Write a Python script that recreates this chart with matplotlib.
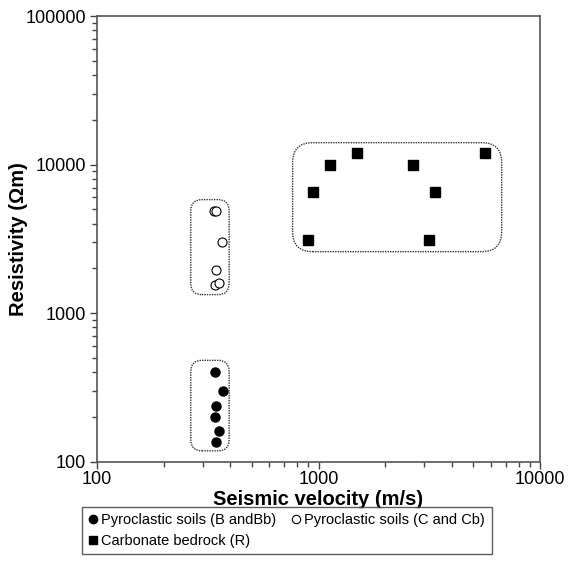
import matplotlib
matplotlib.use("Agg")
import matplotlib.pyplot as plt
from matplotlib.patches import FancyBboxPatch
from matplotlib.lines import Line2D

plt.rcParams['font.family'] = ['Liberation Sans', 'DejaVu Sans']

# Data
pyro_b_vel = [340, 370, 345, 340, 355, 345]
pyro_b_res = [400, 300, 235, 200, 160, 135]
pyro_c_vel = [338, 345, 365, 345, 340, 355]
pyro_c_res = [4900, 4900, 3000, 1950, 1550, 1600]
bed_vel = [894, 941, 1130, 1488, 2663, 3357, 3165, 5629]
bed_res = [3100, 6500, 10000, 12000, 10000, 6500, 3100, 12000]

labels = ["Pyroclastic soils (B andBb)", "Pyroclastic soils (C and Cb)", "Carbonate bedrock (R)"]
x_ticks = [100, 1000, 10000]
y_ticks = [100, 1000, 10000, 100000]

# group boxes (data extents) and corner rounding (axes fraction)
boxes = [
    (265, 395, 118, 480, 0.025),
    (265, 395, 1330, 5800, 0.025),
    (764, 6714, 2590, 14030, 0.045),
]

fig = plt.figure(figsize=(5.68, 5.68), dpi=100)
ax = fig.add_axes([0.1708, 0.1875, 0.7799, 0.7843])
ax.set_xscale('log')
ax.set_yscale('log')
ax.set_xlim(100, 10000)
ax.set_ylim(100, 100000)

ms = 6.5
ax.plot(pyro_b_vel, pyro_b_res, 'o', color='black', ms=ms, mec='black', zorder=3)
ax.plot(pyro_c_vel, pyro_c_res, 'o', mfc='white', mec='black', mew=0.8, ms=ms, zorder=3)
ax.plot(bed_vel, bed_res, 's', color='black', ms=ms, zorder=3)

fig.canvas.draw()
to_axes = ax.transData + ax.transAxes.inverted()
for (x0, x1, y0, y1, r) in boxes:
    (ax0, ay0), (ax1, ay1) = to_axes.transform([(x0, y0), (x1, y1)])
    p = FancyBboxPatch((ax0, ay0), ax1 - ax0, ay1 - ay0,
                       boxstyle="round,pad=0,rounding_size=%g" % r,
                       transform=ax.transAxes, fill=False, ec='#333333',
                       lw=1.0, ls=(0, (1.0, 0.8)), zorder=2)
    ax.add_patch(p)

ax.set_xticks(x_ticks)
ax.set_xticklabels([str(v) for v in x_ticks])
ax.set_yticks(y_ticks)
ax.set_yticklabels([str(v) for v in y_ticks])
ax.tick_params(axis='both', which='major', direction='out', length=5, width=1,
               labelsize=13, color='#444444', pad=3)
ax.tick_params(axis='x', which='major', pad=2)
ax.tick_params(axis='both', which='minor', direction='out', length=3.5, width=1,
               color='#444444')
for s in ax.spines.values():
    s.set_color('#555555')
    s.set_linewidth(1.2)

ax.set_xlabel("Seismic velocity (m/s)", fontsize=14.5, fontweight='bold', labelpad=1)
ax.set_ylabel("Resistivity (Ωm)", fontsize=14.5, fontweight='bold')
ax.yaxis.set_label_coords(-0.155, 0.5)

h_b = Line2D([], [], marker='o', ls='none', color='black', ms=6)
h_c = Line2D([], [], marker='o', ls='none', mfc='white', mec='black', mew=0.8, ms=6)
h_r = Line2D([], [], marker='s', ls='none', color='black', ms=6)
leg = fig.legend([h_b, h_r, h_c], [labels[0], labels[2], labels[1]],
                 ncol=2, loc='upper left', bbox_to_anchor=(0.144, 0.108),
                 frameon=True, fancybox=False, fontsize=10.5,
                 handlelength=0.6, handletextpad=0.3, columnspacing=1.0,
                 borderpad=0.45, labelspacing=0.45, borderaxespad=0)
leg.get_frame().set_edgecolor('#333333')
leg.get_frame().set_linewidth(1.0)

fig.savefig("out.png", dpi=100)
